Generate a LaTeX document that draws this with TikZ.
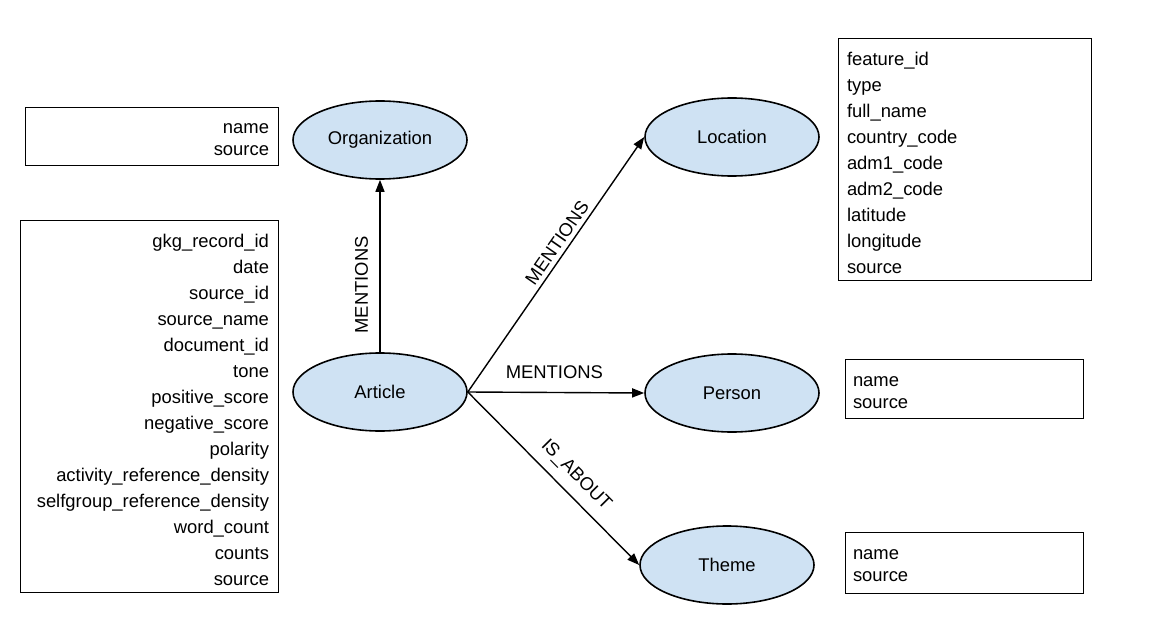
\documentclass[tikz,border=0pt]{standalone}
\usepackage{fontspec}
\setmainfont{Liberation Sans}
\usetikzlibrary{shapes.geometric, arrows.meta}
\definecolor{entfill}{HTML}{CFE2F3}
\begin{document}
\begin{tikzpicture}[x=1pt,y=-1pt,
  entity/.style={ellipse, draw=black, line width=1.6pt, fill=entfill, minimum width=174pt, minimum height=78pt, inner sep=0pt, font=\fontsize{18.4}{22}\selectfont},
  attrbox/.style={draw=black, line width=0.9pt, inner ysep=0pt, inner xsep=9pt},
  wide/.style={font=\fontsize{18.4}{26}\selectfont},
  narrow/.style={font=\fontsize{18.4}{22}\selectfont},
  rel/.style={line width=1.4pt, -{Triangle[length=12pt,width=9pt]}},
  lab/.style={font=\fontsize{18.4}{22}\selectfont, sloped}
]
\useasboundingbox (0,0) rectangle (1149,623);

% attribute boxes
\node[attrbox, narrow, minimum width=253pt, minimum height=58pt, text width=235pt, align=right] (orgbox) at (151.5,136) {\rule{0pt}{17.5pt}name\\source};
\node[attrbox, wide, minimum width=258pt, minimum height=372pt, text width=240pt, align=right] (artbox) at (149,406) {\rule{0pt}{21.5pt}gkg\_record\_id\\date\\source\_id\\source\_name\\document\_id\\tone\\positive\_score\\negative\_score\\polarity\\activity\_reference\_density\\selfgroup\_reference\_density\\word\_count\\counts\\source};
\node[attrbox, wide, minimum width=253pt, minimum height=242pt, text width=235pt, align=left] (locbox) at (964.5,159) {\rule{0pt}{21.5pt}feature\_id\\type\\full\_name\\country\_code\\adm1\_code\\adm2\_code\\latitude\\longitude\\source};
\node[attrbox, narrow, inner xsep=8pt, minimum width=238pt, minimum height=59pt, text width=222pt, align=left] (perbox) at (964,388.5) {\rule{0pt}{17.5pt}name\\source};
\node[attrbox, narrow, inner xsep=8pt, minimum width=238pt, minimum height=61pt, text width=222pt, align=left] (thmbox) at (964,563) {\rule{0pt}{16pt}name\\source};

% entities
\node[entity] (org) at (380,140) {Organization};
\node[entity] (art) at (380,392) {Article};
\node[entity] (loc) at (732,137) {Location};
\node[entity] (per) at (732,393) {Person};
\node[entity] (thm) at (727,565) {Theme};

% relations
\draw[rel] (art.north) -- node[lab, pos=0.39, above=8pt] {MENTIONS} (org.south);
\draw[rel] (art.east) -- node[lab, pos=0.56, above=1pt] {MENTIONS} (loc.west);
\draw[rel] (art.east) -- node[lab, pos=0.49, above=10pt] {MENTIONS} (per.west);
\draw[rel] (art.east) -- node[lab, pos=0.555, above=6pt] {IS\_ABOUT} (thm.west);
\end{tikzpicture}
\end{document}
